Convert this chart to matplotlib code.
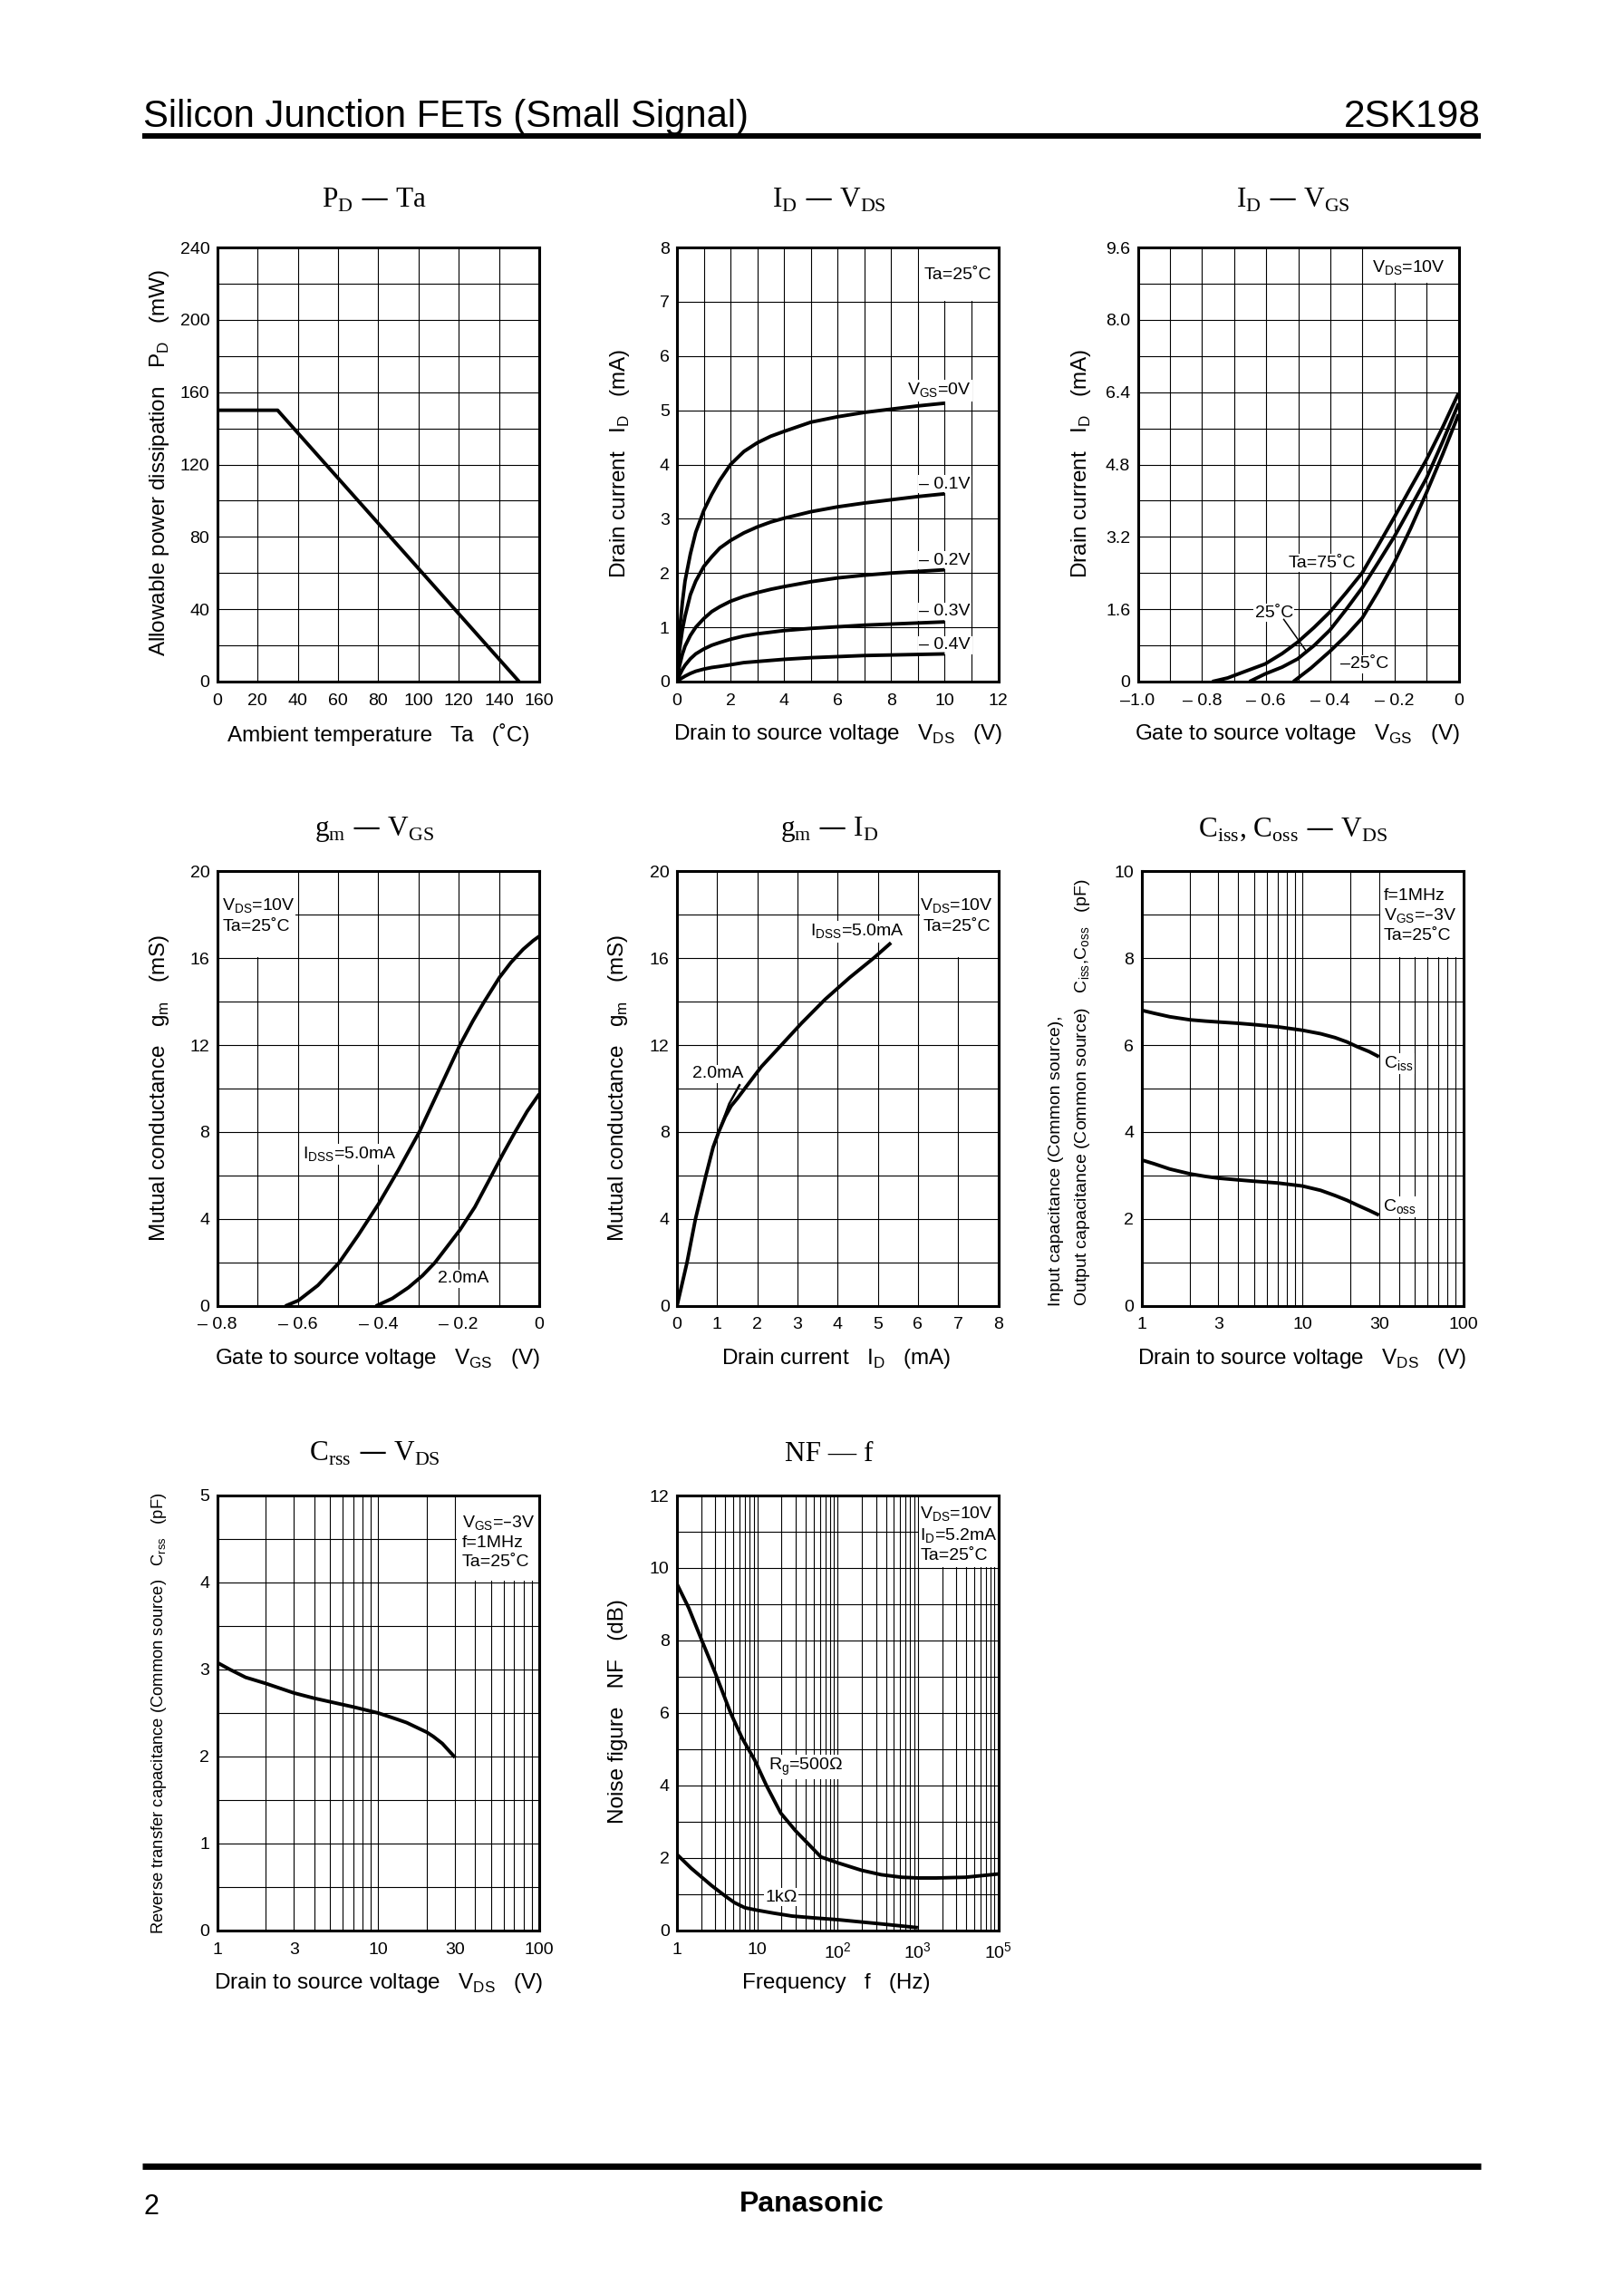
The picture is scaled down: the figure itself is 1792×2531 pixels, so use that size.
import matplotlib
matplotlib.use("Agg")
import matplotlib.pyplot as plt
from matplotlib.lines import Line2D
from matplotlib.patches import Rectangle

plt.rcParams['font.family'] = ['Liberation Sans', 'DejaVu Sans']
W, H = 1792, 2531
DPI = 100

# ---------- data ----------
pd_ta = [0, 30, 150]
pd_mw = [150, 150, 0]

vds_grid = [0, 0.05, 0.1, 0.2, 0.3, 0.5, 0.7, 1, 1.3, 1.6, 2, 2.5, 3, 3.5, 4, 5, 6, 7, 8, 9, 10]
id_vgs0 = [0, 0.55, 0.95, 1.45, 1.85, 2.35, 2.75, 3.15, 3.45, 3.71, 4.0, 4.24, 4.4, 4.52, 4.61, 4.78, 4.88, 4.96, 5.02, 5.08, 5.13]
id_vgs1 = [0, 0.35, 0.6, 0.95, 1.2, 1.6, 1.85, 2.12, 2.3, 2.46, 2.6, 2.74, 2.85, 2.94, 3.01, 3.13, 3.22, 3.29, 3.35, 3.41, 3.46]
id_vgs2 = [0, 0.17, 0.3, 0.5, 0.65, 0.85, 1.0, 1.16, 1.29, 1.38, 1.48, 1.57, 1.64, 1.7, 1.75, 1.84, 1.91, 1.96, 2.0, 2.03, 2.06]
id_vgs3 = [0, 0.06, 0.12, 0.22, 0.3, 0.42, 0.51, 0.6, 0.67, 0.72, 0.78, 0.84, 0.88, 0.91, 0.94, 0.98, 1.01, 1.04, 1.06, 1.08, 1.1]
id_vgs4 = [0, 0.02, 0.04, 0.07, 0.1, 0.15, 0.19, 0.23, 0.26, 0.28, 0.31, 0.35, 0.37, 0.39, 0.41, 0.44, 0.46, 0.48, 0.49, 0.5, 0.51]

vgs_75 = [-0.768, -0.72, -0.66, -0.603, -0.55, -0.502, -0.45, -0.401, -0.35, -0.30, -0.25, -0.2, -0.15, -0.1, -0.05, 0]
id_75 = [0, 0.08, 0.24, 0.39, 0.62, 0.87, 1.2, 1.54, 1.97, 2.41, 3.02, 3.64, 4.28, 4.91, 5.62, 6.38]
vgs_25 = [-0.652, -0.603, -0.55, -0.502, -0.45, -0.401, -0.35, -0.3, -0.25, -0.2, -0.15, -0.1, -0.05, 0]
id_25 = [0, 0.17, 0.32, 0.5, 0.8, 1.14, 1.6, 2.08, 2.64, 3.21, 3.85, 4.5, 5.3, 6.15]
vgs_m25 = [-0.515, -0.46, -0.401, -0.35, -0.3, -0.25, -0.2, -0.15, -0.1, -0.05, 0]
id_m25 = [0, 0.3, 0.67, 1.02, 1.41, 2.0, 2.64, 3.38, 4.18, 5.02, 5.91]
ptr_x = [-0.545, -0.475]
ptr_y = [1.375, 0.674]

gmv5_x = [-0.631, -0.598, -0.55, -0.497, -0.45, -0.399, -0.35, -0.298, -0.25, -0.197, -0.165, -0.138, -0.099, -0.07, -0.04, -0.015, 0]
gmv5_y = [0, 0.26, 0.95, 2.0, 3.25, 4.7, 6.25, 8.0, 9.9, 12, 13.1, 13.95, 15.1, 15.8, 16.4, 16.8, 17]
gmv2_x = [-0.406, -0.365, -0.325, -0.29, -0.259, -0.23, -0.197, -0.16, -0.127, -0.09, -0.06, -0.03, 0]
gmv2_y = [0, 0.35, 0.85, 1.4, 2.0, 2.7, 3.5, 4.55, 5.7, 7.0, 8, 8.95, 9.75]

gmi5_x = [0, 0.25, 0.46, 0.72, 0.9, 1.05, 1.2, 1.35, 1.51, 1.73, 2.1, 2.6, 3.1, 3.69, 4.3, 4.9, 5.33]
gmi5_y = [0, 2, 4, 6, 7.3, 8.05, 8.7, 9.2, 9.56, 10.1, 11, 12, 13, 14.1, 15.1, 16, 16.7]
gmi2_x = [0.9, 1.05, 1.3, 1.57]
gmi2_y = [7.3, 8.05, 9.3, 10.2]

cap_v = [1, 1.2, 1.5, 2, 2.5, 3, 4, 5, 7, 10, 13, 16, 19, 22, 26, 30]
ciss = [6.8, 6.73, 6.65, 6.58, 6.55, 6.53, 6.5, 6.47, 6.42, 6.34, 6.26, 6.17, 6.07, 5.96, 5.85, 5.73]
coss = [3.36, 3.27, 3.15, 3.04, 2.98, 2.94, 2.9, 2.87, 2.83, 2.76, 2.66, 2.54, 2.43, 2.32, 2.2, 2.09]

crss_v = [1, 1.2, 1.5, 2, 3, 4, 5, 7, 10, 13, 15, 18, 20, 22, 25, 28, 30]
crss = [3.08, 3.0, 2.91, 2.84, 2.73, 2.67, 2.63, 2.57, 2.5, 2.43, 2.39, 2.32, 2.28, 2.23, 2.15, 2.05, 1.99]

nf_f = [1, 1.4, 2.04, 3, 4.66, 6.5, 9.3, 13, 19.6, 30, 62, 100, 200, 350, 630, 1000, 1700, 3900, 10000]
nf_500 = [9.56, 8.9, 8.0, 7.1, 6.0, 5.3, 4.7, 4.0, 3.24, 2.75, 2.03, 1.87, 1.66, 1.54, 1.47, 1.45, 1.45, 1.47, 1.56]
nf1k_f = [1, 1.5, 2.7, 4, 5.2, 7, 10, 16, 27, 50, 100, 325, 1000]
nf_1k = [2.1, 1.72, 1.24, 0.95, 0.77, 0.63, 0.56, 0.48, 0.4, 0.35, 0.3, 0.19, 0.08]

# ---------- layout helpers ----------
fig = plt.figure(figsize=(W / DPI, H / DPI), dpi=DPI, facecolor='white')

def fx(x): return x / W
def fy(y): return 1 - y / H

C1 = (239.7, 595)
C2 = (747, 1101.5)
C3 = (1255.5, 1609.5)
C3B = (1259.5, 1614.5)
R1 = (273, 752)
R2 = (961, 1441)
R3 = (1650, 2130)
S = 1.614  # reference overview units to pixels

def make_ax(col, row, xlim, ylim, vlines, hlines, xt, xl, yt, yl, log=False):
    l, r = col
    t, b = row
    ax = fig.add_axes([fx(l), fy(b), (r - l) / W, (b - t) / H])
    if log:
        ax.set_xscale('log')
    ax.set_xlim(*xlim)
    ax.set_ylim(*ylim)
    for v in vlines:
        ax.axvline(v, color='k', lw=0.8, zorder=1)
    for h in hlines:
        ax.axhline(h, color='k', lw=0.8, zorder=1)
    ax.minorticks_off()
    ax.set_xticks(xt)
    ax.set_xticklabels(xl)
    ax.set_yticks(yt)
    ax.set_yticklabels(yl)
    ax.tick_params(axis='x', which='both', length=0, labelsize=14, pad=9)
    ax.tick_params(axis='y', which='both', length=0, labelsize=14, pad=6)
    ax.minorticks_off()
    for s in ax.spines.values():
        s.set_linewidth(2.2)
        s.set_zorder(6)
    return ax

def mask(ax, x0, x1, y0, y1):
    ax.add_patch(Rectangle((x0, y0), x1 - x0, y1 - y0, fc='white', ec='none', zorder=2))

def curve(ax, x, y, lw=2.8):
    ax.plot(x, y, color='k', lw=lw, zorder=4, solid_capstyle='butt', solid_joinstyle='round')

def note(ax, ox, oy, s, box=True, ha='center', size=14):
    kw = dict(boxstyle='square,pad=0.08', fc='white', ec='none') if box else None
    ax.text(fx(ox * S), fy((oy + 1) * S), s, transform=fig.transFigure, ha=ha, va='center',
            fontsize=size, zorder=3, bbox=kw, clip_on=False, linespacing=1.25)

def title(ox, oy, s):
    fig.text(fx(ox * S), fy(oy * S), s, ha='center', va='center', fontsize=22.5,
             family='Liberation Serif')

def xlabel(ox, oy, s, size=17.5):
    fig.text(fx(ox * S), fy(oy * S + 3), s, ha='center', va='center', fontsize=size)

def ylabel(ox, oy, s, size=17.5, va='center'):
    fig.text(fx(ox * S + 3), fy(oy * S), s, ha='center', va=va, rotation=90, fontsize=size)

def sub(s):
    return r'$_{\mathdefault{' + s + '}}$'

def sup(s):
    return r'$^{\mathdefault{' + s + '}}$'

def rng(a, b, step, n):
    return [a + step * i for i in range(1, n)]

# ---------- page furniture ----------
fig.text(fx(158), fy(129), 'Silicon Junction FETs (Small Signal)', fontsize=30.1, ha='left', va='center')
fig.text(fx(1634), fy(129), '2SK198', fontsize=30.5, ha='right', va='center')
fig.add_artist(Line2D([fx(157), fx(1634)], [fy(150)] * 2, color='k', lw=4.4, solid_capstyle='butt'))
fig.add_artist(Line2D([fx(157), fx(1634)], [fy(2389.5)] * 2, color='k', lw=5, solid_capstyle='butt'))
fig.text(fx(158), fy(2435), '2', fontsize=22, ha='left', va='center')
fig.text(fx(896), fy(2432), 'Panasonic', fontsize=23, ha='center', va='center', weight='bold')

# ---------- P_D - Ta ----------
ax = make_ax(C1, R1, (0, 160), (0, 240), rng(0, 160, 20, 8), rng(0, 240, 20, 12),
             list(range(0, 161, 20)), [str(v) for v in range(0, 161, 20)],
             list(range(0, 241, 40)), [str(v) for v in range(0, 241, 40)])
curve(ax, pd_ta, pd_mw)
title(256, 137, 'P' + sub('D') + ' — Ta')
xlabel(258.5, 500, 'Ambient temperature   Ta   (˚C)')
ylabel(107, 316, 'Allowable power dissipation   P' + sub('D') + '   (mW)')

# ---------- I_D - V_DS ----------
ax = make_ax(C2, R1, (0, 12), (0, 8), rng(0, 12, 1, 12), rng(0, 8, 1, 8),
             list(range(0, 13, 2)), [str(v) for v in range(0, 13, 2)],
             list(range(0, 9)), [str(v) for v in range(0, 9)])
mask(ax, 9.05, 12, 7.02, 8)
for ys in (id_vgs0, id_vgs1, id_vgs2, id_vgs3, id_vgs4):
    curve(ax, vds_grid, ys)
note(ax, 655, 187, 'Ta=25˚C', box=False)
note(ax, 642, 266, 'V' + sub('GS') + '=0V')
note(ax, 646, 330, '– 0.1V')
note(ax, 646, 382, '– 0.2V')
note(ax, 646, 417, '– 0.3V')
note(ax, 646, 440, '– 0.4V')
title(567, 137, 'I' + sub('D') + ' — V' + sub('DS'))
xlabel(573, 500, 'Drain to source voltage   V' + sub('DS') + '   (V)')
ylabel(422, 317, 'Drain current   I' + sub('D') + '   (mA)')

# ---------- I_D - V_GS ----------
ax = make_ax(C3, R1, (-1, 0), (0, 9.6), [-0.1 * i for i in range(1, 10)], [0.8 * i for i in range(1, 12)],
             [-1, -0.8, -0.6, -0.4, -0.2, 0], ['–1.0', '– 0.8', '– 0.6', '– 0.4', '– 0.2', '0'],
             [0, 1.6, 3.2, 4.8, 6.4, 8.0, 9.6], ['0', '1.6', '3.2', '4.8', '6.4', '8.0', '9.6'])
mask(ax, -0.295, 0, 8.82, 9.6)
curve(ax, vgs_75, id_75)
curve(ax, vgs_25, id_25)
curve(ax, vgs_m25, id_m25)
ax.plot(ptr_x, ptr_y, color='k', lw=1.1, zorder=5)
note(ax, 963, 182, 'V' + sub('DS') + '=10V', box=False)
note(ax, 904, 384, 'Ta=75˚C')
note(ax, 871, 418, '25˚C')
note(ax, 933, 453, '–25˚C')
title(884, 137, 'I' + sub('D') + ' — V' + sub('GS'))
xlabel(887, 500, 'Gate to source voltage   V' + sub('GS') + '   (V)')
ylabel(737, 317, 'Drain current   I' + sub('D') + '   (mA)')

# ---------- g_m - V_GS ----------
ax = make_ax(C1, R2, (-0.8, 0), (0, 20), [-0.1 * i for i in range(1, 8)], [2 * i for i in range(1, 10)],
             [-0.8, -0.6, -0.4, -0.2, 0], ['– 0.8', '– 0.6', '– 0.4', '– 0.2', '0'],
             [0, 4, 8, 12, 16, 20], ['0', '4', '8', '12', '16', '20'])
mask(ax, -0.8, -0.605, 16.06, 20)
curve(ax, gmv5_x, gmv5_y)
curve(ax, gmv2_x, gmv2_y)
note(ax, 152, 625, 'V' + sub('DS') + '=10V\nTa=25˚C', box=False, ha='left')
note(ax, 239, 788, 'I' + sub('DSS') + '=5.0mA')
note(ax, 317, 873, '2.0mA')
title(256, 567, 'g' + sub('m') + ' — V' + sub('GS'))
xlabel(258, 927, 'Gate to source voltage   V' + sub('GS') + '   (V)')
ylabel(107, 744, 'Mutual conductance   g' + sub('m') + '   (mS)')

# ---------- g_m - I_D ----------
ax = make_ax(C2, R2, (0, 8), (0, 20), rng(0, 8, 1, 8), [2 * i for i in range(1, 10)],
             list(range(0, 9)), [str(v) for v in range(0, 9)],
             [0, 4, 8, 12, 16, 20], ['0', '4', '8', '12', '16', '20'])
mask(ax, 6.04, 8, 16.06, 20)
curve(ax, gmi5_x, gmi5_y)
curve(ax, gmi2_x, gmi2_y, lw=1.8)
note(ax, 654, 625, 'V' + sub('DS') + '=10V\nTa=25˚C', box=False)
note(ax, 586, 636, 'I' + sub('DSS') + '=5.0mA')
note(ax, 491, 733, '2.0mA')
title(567, 567, 'g' + sub('m') + ' — I' + sub('D'))
xlabel(572, 927, 'Drain current   I' + sub('D') + '   (mA)')
ylabel(421, 744, 'Mutual conductance   g' + sub('m') + '   (mS)')

# ---------- C_iss, C_oss - V_DS ----------
log2 = [2, 3, 4, 5, 6, 7, 8, 9, 10, 20, 30, 40, 50, 60, 70, 80, 90]
ax = make_ax(C3B, R2, (1, 100), (0, 10), log2, list(range(1, 10)),
             [1, 3, 10, 30, 100], ['1', '3', '10', '30', '100'],
             [0, 2, 4, 6, 8, 10], ['0', '2', '4', '6', '8', '10'], log=True)
mask(ax, 30.6, 100, 8.03, 10)
curve(ax, cap_v, ciss)
curve(ax, cap_v, coss)
note(ax, 946, 625, 'f=1MHz\nV' + sub('GS') + '=–3V\nTa=25˚C', box=False, ha='left')
note(ax, 956, 726, 'C' + sub('iss'))
note(ax, 957, 824, 'C' + sub('oss'))
title(884, 567, 'C' + sub('iss') + ', C' + sub('oss') + ' — V' + sub('DS'))
xlabel(890, 927, 'Drain to source voltage   V' + sub('DS') + '   (V)')
ylabel(720, 893, 'Input capacitance (Common source),', size=14, va='bottom')
ylabel(738, 893, 'Output capacitance (Common source)   C' + sub('iss') + ',C' + sub('oss') + '   (pF)', size=14, va='bottom')

# ---------- C_rss - V_DS ----------
ax = make_ax(C1, R3, (1, 100), (0, 5), log2, [0.5 * i for i in range(1, 10)],
             [1, 3, 10, 30, 100], ['1', '3', '10', '30', '100'],
             [0, 1, 2, 3, 4, 5], ['0', '1', '2', '3', '4', '5'], log=True)
mask(ax, 30.6, 100, 4.02, 5)
curve(ax, crss_v, crss)
note(ax, 316, 1053, 'V' + sub('GS') + '=–3V\nf=1MHz\nTa=25˚C', box=False, ha='left')
title(256, 994, 'C' + sub('rss') + ' — V' + sub('DS'))
xlabel(259, 1354, 'Drain to source voltage   V' + sub('DS') + '   (V)')
ylabel(107, 1171, 'Reverse transfer capacitance (Common source)   C' + sub('rss') + '   (pF)', size=13.2)

# ---------- NF - f ----------
log4 = [m * d for d in (1, 10, 100, 1000) for m in range(2, 11)][:-1]
ax = make_ax(C2, R3, (1, 10000), (0, 12), log4, list(range(1, 12)),
             [1, 10, 100, 1000, 10000],
             ['1', '10', '10' + sup('2'), '10' + sup('3'), '10' + sup('5')],
             [0, 2, 4, 6, 8, 10, 12], ['0', '2', '4', '6', '8', '10', '12'], log=True)
mask(ax, 1030, 10000, 10.03, 12)
curve(ax, nf_f, nf_500)
curve(ax, nf1k_f, nf_1k)
note(ax, 629, 1048, 'V' + sub('DS') + '=10V\nI' + sub('D') + '=5.2mA\nTa=25˚C', box=False, ha='left')
note(ax, 551, 1207, 'R' + sub('g') + '=500Ω')
note(ax, 534, 1296, '1kΩ')
title(567, 994, 'NF — f')
xlabel(572, 1354, 'Frequency   f   (Hz)')
ylabel(421, 1170, 'Noise figure   NF   (dB)')

fig.savefig('out.png', dpi=DPI, facecolor='white')
